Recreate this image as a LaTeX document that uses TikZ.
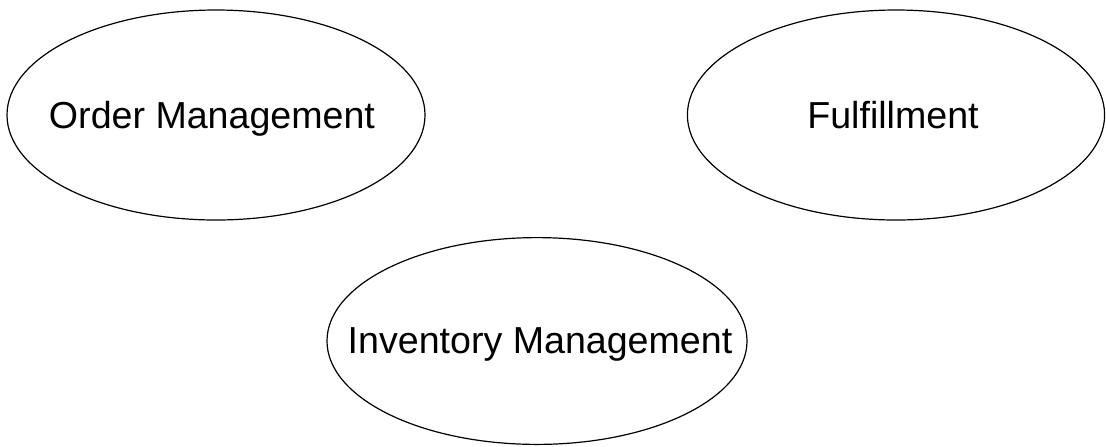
\documentclass[tikz,border=0pt]{standalone}
\usepackage{fontspec}
\setmainfont{Liberation Sans}
\usetikzlibrary{shapes.geometric, positioning}

\begin{document}
\begin{tikzpicture}[x=0.5pt, y=-0.5pt,
    label/.style={inner sep=0pt, anchor=base, font=\fontsize{18.8}{22}\selectfont},
    rim/.style={line width=0.6pt}]
        % Rahmen
        \useasboundingbox (0, 0) rectangle (1106, 446);

        % Kontexte
        \node[label] (order) at (212, 128) {Order Management};
        \node[label] (fulfil) at (893, 128) {Fulfillment};
        \node[label] (inventory) at (540, 353) {Inventory Management};

        % Ellipsen
        \draw[rim] (216, 115) ellipse [x radius=104.5pt, y radius=52.5pt];
        \draw[rim] (896, 115) ellipse [x radius=104.3pt, y radius=52.5pt];
        \draw[rim] (537, 341) ellipse [x radius=105pt, y radius=51.7pt];
\end{tikzpicture}
\end{document}
